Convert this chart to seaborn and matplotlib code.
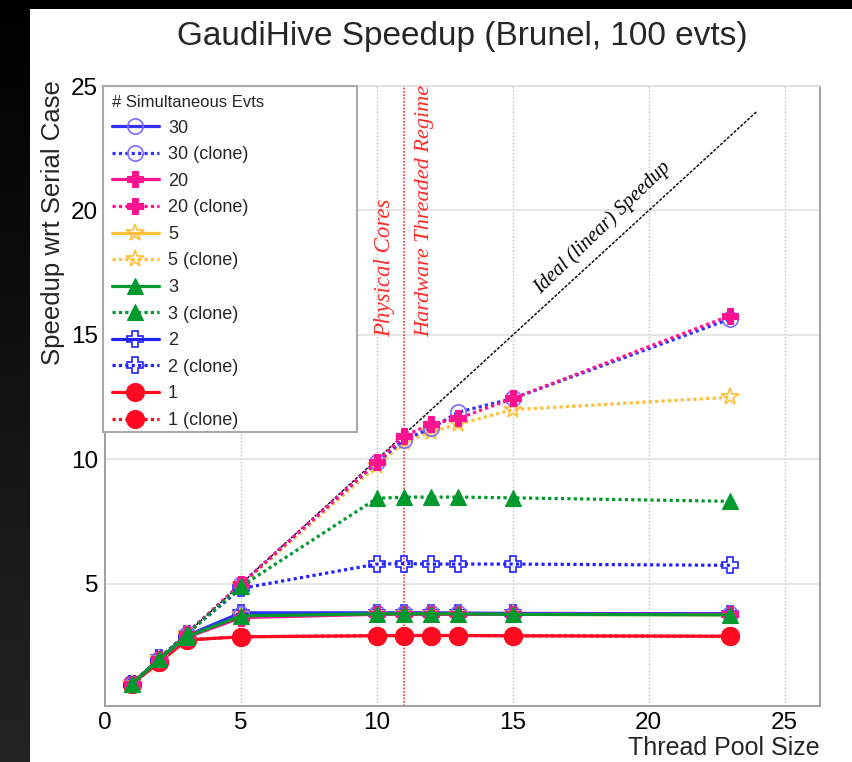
import matplotlib
matplotlib.use("Agg")
import matplotlib.pyplot as plt
from matplotlib.patches import Rectangle
from matplotlib.ticker import MultipleLocator
import numpy as np
import pandas as pd
import seaborn as sns

#-Thread pool sizes
threads = [1, 2, 3, 5, 10, 11, 12, 13, 15, 23]

#-Speedups, one list per number of simultaneous events
s30 = [1.0, 1.98, 2.90, 3.80, 3.82, 3.82, 3.82, 3.82, 3.80, 3.80]
s30_clone = [1.0, 2.00, 3.00, 5.00, 9.88, 10.80, 11.25, 11.90, 12.45, 15.65]
s20 = [1.0, 1.95, 2.85, 3.65, 3.78, 3.78, 3.78, 3.78, 3.78, 3.78]
s20_clone = [1.0, 2.00, 3.00, 5.00, 9.90, 10.95, 11.42, 11.65, 12.45, 15.78]
s5 = [1.0, 1.98, 2.90, 3.75, 3.80, 3.80, 3.80, 3.80, 3.78, 3.76]
s5_clone = [1.0, 2.00, 2.98, 4.95, 9.75, 10.70, 11.10, 11.42, 12.00, 12.50]
s3 = [1.0, 1.98, 2.88, 3.72, 3.80, 3.80, 3.80, 3.80, 3.78, 3.76]
s3_clone = [1.0, 2.00, 2.98, 4.90, 8.44, 8.49, 8.49, 8.49, 8.46, 8.32]
s2 = [1.0, 2.00, 2.92, 3.84, 3.84, 3.84, 3.84, 3.83, 3.82, 3.80]
s2_clone = [1.0, 2.02, 3.00, 4.82, 5.80, 5.82, 5.80, 5.80, 5.80, 5.75]
s1 = [1.0, 1.85, 2.75, 2.88, 2.92, 2.93, 2.93, 2.93, 2.92, 2.90]
s1_clone = [1.0, 1.86, 2.76, 2.88, 2.93, 2.93, 2.93, 2.93, 2.92, 2.90]

ideal_x = [1, 24]
ideal_y = [1, 24]

#-Style per series: label, data, colour, marker, marker size, open marker
series = [
    ("30", s30, "#3232ff", "o", 11, True),
    ("30 (clone)", s30_clone, "#3232ff", "o", 11, True),
    ("20", s20, "#ff1490", "P", 12, False),
    ("20 (clone)", s20_clone, "#ff1490", "P", 12, False),
    ("5", s5, "#ffbf3a", "*", 13, True),
    ("5 (clone)", s5_clone, "#ffbf3a", "*", 13, True),
    ("3", s3, "#00992e", "^", 11, False),
    ("3 (clone)", s3_clone, "#00992e", "^", 11, False),
    ("2", s2, "#2222ff", "P", 11, True),
    ("2 (clone)", s2_clone, "#2222ff", "P", 11, True),
    ("1", s1, "#ff0a20", "o", 13, False),
    ("1 (clone)", s1_clone, "#ff0a20", "o", 13, False),
]
draw_order = ["1", "1 (clone)", "2", "2 (clone)", "5", "5 (clone)",
              "30", "30 (clone)", "20", "20 (clone)", "3", "3 (clone)"]

sns.set_style("white")
plt.rcParams["font.family"] = ["Liberation Sans", "DejaVu Sans"]

fig = plt.figure(figsize=(8.52, 7.62), dpi=100, facecolor="white")

#-Dark frame on the left and top
strip = fig.add_axes([0, 0, 30 / 852, 1])
strip.imshow(np.linspace(0.0, 0.14, 200)[:, None], cmap="gray", vmin=0, vmax=1,
             aspect="auto", extent=[0, 1, 0, 1], origin="upper")
strip.set_axis_off()
fig.patches.append(Rectangle((0, 1 - 9 / 762), 1, 9 / 762, transform=fig.transFigure,
                             facecolor="black", edgecolor="none", zorder=0))

ax = fig.add_axes([105 / 852, 56 / 762, 715 / 852, 620 / 762])
ax.set_xlim(0, 26.3)
ax.set_ylim(0.1, 25)

#-Grid
for gx in [5, 10, 15, 20, 25]:
    ax.axvline(gx, color="#c0c0c0", lw=1, ls=(0, (1, 1.5)), zorder=0)
for gy in [5, 10, 15, 20]:
    ax.axhline(gy, color="#e2e2e2", lw=1.2, zorder=0)

#-Ideal speedup and hyperthreading boundary
ax.plot(ideal_x, ideal_y, color="#111111", lw=1.1, ls=(0, (2, 1)), zorder=2)
ax.axvline(11, color="#ff3030", lw=1.2, ls=(0, (1, 1)), zorder=1)

long = pd.DataFrame([(lab, t, v) for lab, vals, *_ in series for t, v in zip(threads, vals)],
                    columns=["series", "threads", "speedup"])
style = {lab: (c, m, ms, op) for lab, _, c, m, ms, op in series}

handles = {}
for lab in draw_order:
    c, m, ms, op = style[lab]
    dotted = "clone" in lab
    sns.lineplot(data=long[long.series == lab], x="threads", y="speedup", ax=ax,
                 color=c, lw=2.3, ls=(0, (1, 1)) if dotted else "-",
                 marker=m, markersize=ms, markeredgecolor=c if not (op and lab.startswith("30")) else "#7a6cff",
                 markerfacecolor="none" if op else c, markeredgewidth=1.2 if op else 0.8,
                 zorder=3, legend=False, label=lab)
    handles[lab] = ax.lines[-1]

#-Legend box is wider than its content, so draw the frame separately
ax.add_patch(Rectangle((-0.003, 0.442), 0.355, 0.558, transform=ax.transAxes,
                       facecolor="white", edgecolor="#aaaaaa", lw=1.5, zorder=4,
                       clip_on=False))
leg = ax.legend([handles[s[0]] for s in series], [s[0] for s in series],
                loc="upper left", bbox_to_anchor=(-0.003, 1.0), borderaxespad=0,
                title="# Simultaneous Evts", title_fontsize=12, fontsize=13,
                handlelength=2.6, handletextpad=0.5, labelspacing=0.53,
                borderpad=0.5, frameon=False)
leg._legend_box.align = "left"
leg.set_zorder(5)

#-Annotations
ax.text(18.3, 19.3, "Ideal (linear) Speedup", rotation=44, ha="center", va="center",
        fontsize=14.5, family="Liberation Serif", style="italic", color="black")
ax.text(10.3, 14.9, "Physical Cores", rotation=90, ha="center", va="bottom",
        fontsize=16.5, family="Liberation Serif", style="italic", color="#ff2a2a")
ax.text(11.75, 14.9, "Hardware Threaded Regime", rotation=90, ha="center", va="bottom",
        fontsize=16, family="Liberation Serif", style="italic", color="#ff2a2a")

#-Axes styling
ax.xaxis.set_major_locator(MultipleLocator(5))
ax.xaxis.set_minor_locator(MultipleLocator(1))
ax.yaxis.set_major_locator(MultipleLocator(5))
ax.yaxis.set_minor_locator(MultipleLocator(1))
ax.tick_params(axis="both", which="major", direction="in", length=13, width=1,
               color="#888888", labelsize=17.5, labelcolor="black")
ax.tick_params(axis="both", which="minor", direction="in", length=6.5, width=1,
               color="#888888")
ax.tick_params(axis="x", which="major", pad=4)
ax.tick_params(axis="y", which="major", pad=5)
ax.set_xticks([0, 5, 10, 15, 20, 25])
ax.set_yticks([5, 10, 15, 20, 25])
for sp in ax.spines.values():
    sp.set_color("#999999")
    sp.set_linewidth(1.3)
ax.spines["top"].set_color("#dddddd")
ax.set_xlabel("")
ax.set_ylabel("")

fig.text(820 / 852, 1 - 748 / 762, "Thread Pool Size", ha="right", va="center", fontsize=18)
fig.text(53 / 852, 1 - 80 / 762, "Speedup wrt Serial Case", ha="center", va="top",
         rotation=90, fontsize=18.5)
fig.text(462 / 852, 1 - 36 / 762, "GaudiHive Speedup (Brunel, 100 evts)", ha="center",
         va="center", fontsize=24)

fig.savefig("out.png", dpi=100, facecolor="white")
